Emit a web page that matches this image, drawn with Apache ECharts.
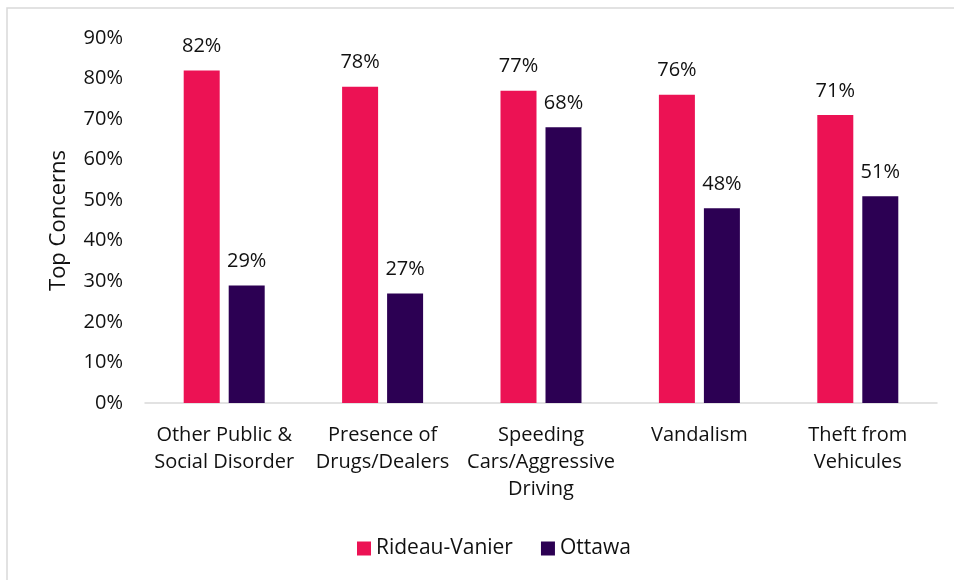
<!DOCTYPE html>
<html>
<head>
<meta charset="utf-8">
<script src="https://cdn.jsdelivr.net/npm/echarts@6/dist/echarts.min.js"></script>
<style>
  html, body { margin: 0; padding: 0; background: #fff; }
  #chart { width: 954px; height: 580px; }
</style>
</head>
<body>
<div id="chart"></div>
<script>
const categories = [
  "Other Public &\nSocial Disorder",
  "Presence of\nDrugs/Dealers",
  "Speeding\nCars/Aggressive\nDriving",
  "Vandalism",
  "Theft from\nVehicules"
];
const rideauVanier = [82, 78, 77, 76, 71];
const ottawa = [29, 27, 68, 48, 51];
const seriesNames = ["Rideau-Vanier", "Ottawa"];
const yTicks = { min: 0, max: 90, interval: 10 };

const font = "'Open Sans', 'Liberation Sans', sans-serif";

const labelStyle = {
  show: true,
  position: "top",
  distance: 14,
  formatter: (p) => p.value + "%",
  color: "#111",
  fontSize: 20,
  fontFamily: font
};

const chart = echarts.init(document.getElementById("chart"));
chart.setOption({
  animation: false,
  textStyle: { fontFamily: font },
  graphic: [
    {
      type: "rect",
      shape: { x: 7, y: 8, width: 960, height: 580 },
      style: { fill: "none", stroke: "#d9d9d9", lineWidth: 1.5 },
      silent: true
    }
  ],
  grid: { left: 145, right: 17, top: 38, bottom: 177, containLabel: false },
  legend: {
    bottom: 16,
    left: 352,
    itemWidth: 14,
    itemHeight: 14,
    itemGap: 28,
    icon: "rect",
    textStyle: { fontSize: 21, color: "#111", fontFamily: font },
    data: seriesNames
  },
  xAxis: {
    type: "category",
    data: categories,
    axisLine: { lineStyle: { color: "#d9d9d9", width: 1.5 } },
    axisTick: { show: false },
    axisLabel: {
      interval: 0,
      margin: 19,
      color: "#111",
      fontSize: 20,
      lineHeight: 27,
      fontFamily: font
    }
  },
  yAxis: {
    type: "value",
    min: yTicks.min,
    max: yTicks.max,
    interval: yTicks.interval,
    name: "Top Concerns",
    nameLocation: "middle",
    nameGap: 75,
    nameTextStyle: { fontSize: 22, color: "#111", fontFamily: font },
    axisLine: { show: false },
    axisTick: { show: false },
    splitLine: { show: false },
    axisLabel: {
      margin: 22,
      formatter: "{value}%",
      color: "#111",
      fontSize: 20,
      fontFamily: font
    }
  },
  series: [
    {
      name: seriesNames[0],
      type: "bar",
      data: rideauVanier,
      barWidth: 36,
      barGap: "25%",
      itemStyle: { color: "#EC1254" },
      label: labelStyle
    },
    {
      name: seriesNames[1],
      type: "bar",
      data: ottawa,
      barWidth: 36,
      barGap: "25%",
      itemStyle: { color: "#2C0053" },
      label: labelStyle
    }
  ]
});
</script>
</body>
</html>
